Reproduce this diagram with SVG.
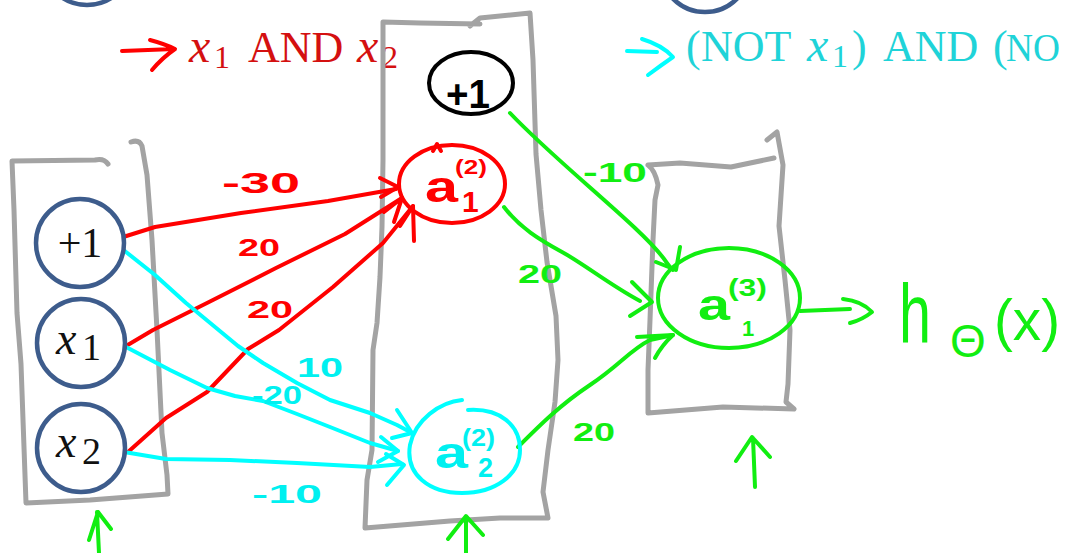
<svg xmlns="http://www.w3.org/2000/svg" width="1065" height="553" viewBox="0 0 1065 553">
<style>
.box{fill:none;stroke:#a3a3a3;stroke-width:5;stroke-linecap:round;stroke-linejoin:round}
.in{fill:#fff;stroke:#3d5c8c;stroke-width:4.5}
.lx{font-family:"Liberation Serif","DejaVu Serif",serif}
.hand{font-family:"Liberation Sans","DejaVu Sans",sans-serif;font-weight:bold}
.thin{font-family:"Liberation Sans","DejaVu Sans",sans-serif;font-weight:normal}
.ln{fill:none;stroke-width:4;stroke-linecap:round;stroke-linejoin:round}
.r{stroke:#ff0000}.c{stroke:#00ffff}.g{stroke:#11ee11}.k{stroke:#000}
.fr{fill:#ff0000}.fc{fill:#00f0f0}.fg{fill:#11ee11}.fk{fill:#000}
.tr{fill:#d41010}.tc{fill:#1fd3d8}
</style>

<!-- partial nodes at top -->
<g id="top-node-left"><circle cx="87" cy="-40" r="45" class="in"/></g>
<g id="top-node-right"><circle cx="705" cy="-33" r="45" class="in"/></g>

<!-- legend texts -->
<g id="legend-and">
<path class="ln r" d="M122,51 L174,49 M150,40 Q165,44 175,49 Q162,58 152,70"/>
<text class="lx tr" y="62" font-size="44"><tspan x="189" font-style="italic" font-size="48">x</tspan><tspan x="214" y="68" font-size="32">1</tspan><tspan x="248" y="62">AND</tspan><tspan x="357" font-style="italic" font-size="48">x</tspan><tspan x="382" y="68" font-size="32">2</tspan></text>
</g>
<g id="legend-nor">
<path class="ln c" d="M627,51 L657,52 M642,39 Q662,45 673,57 Q660,66 648,75"/>
<text class="lx tc" y="61" font-size="44"><tspan x="686">(</tspan><tspan x="701">NOT</tspan><tspan x="807" font-style="italic" font-size="48">x</tspan><tspan x="832" y="67" font-size="32">1</tspan><tspan x="852" y="61">)</tspan><tspan x="883">AND</tspan><tspan x="993">(</tspan></text>
<text class="lx tc" x="1006" y="61" font-size="40" textLength="54" lengthAdjust="spacingAndGlyphs">NO</text>
</g>

<!-- layer boxes -->
<g id="layer1-box"><path class="box" d="M108,164 Q104,158 95,160 L12,161 L14,210 L17,313 L21,364 L26,503 L90,500 L168,494 L167,475 L162,433 L157,330 L152,240 L147,175 L142,146 Q139,139 131,142"/></g>
<g id="layer2-box"><path class="box" d="M470,26 L480,18 L530,13 L533,60 L536,154 L541,210 L547,262 L556,316 L558,360 L555,402 L548,450 L543,492 L548,518 L500,518 L450,521 L365,528 L367,480 L372,450 L373,350 L377,323 L380,277 L382,227 L383,160 L383,60 L383,22 L420,23 L480,24"/></g>
<g id="layer3-box"><path class="box" d="M767,140 L777,132 L783,165 L779,226 L785,280 L790,330 L788,384 L786,402 L794,409 L723,407 L648,413 L648,370 L650,320 L653,240 L655,200 L658,185 Q655,170 648,165 L680,163 L731,167 L774,158"/></g>

<!-- connectors -->
<g id="connectors">
<path class="ln r" d="M120,238 L155,227 L241,213 L328,201 L396,189"/>
<path class="ln r" d="M126,346 L153,330 L207,303 L276,268 L345,234 L402,198"/>
<path class="ln r" d="M128,452 L166,418 L207,392 L248,349 L279,330 L333,287 L383,243 L413,206"/>
<path class="ln r" d="M380,178 L398,187 L381,197 M384,212 L402,198 L394,222 M400,226 L413,206 L414,241"/>
<path class="ln c" d="M121,248 L155,275 L186,303 L238,346 L263,363 L297,383 L330,400 L370,413 L397,425 L412,433"/>
<path class="ln c" d="M126,347 L170,370 L207,388 L235,396 L263,401 L297,414 L330,427 L370,443 L398,451"/>
<path class="ln c" d="M124,452 L166,459 L230,460 L297,463 L370,467 L402,464"/>
<path class="ln c" d="M397,410 L412,433 L392,438 M381,437 L398,451 L378,462 M386,454 L404,465 L387,485"/>
<path class="ln g" d="M510,113 C545,150 600,195 635,228 S664,262 673,270"/>
<path class="ln g" d="M680,247 L676,270 L656,262"/>
<path class="ln g" d="M504,207 C520,228 540,240 562,252 S610,285 640,301"/>
<path class="ln g" d="M632,282 L652,302 L630,316"/>
<path class="ln g" d="M518,447 C540,425 560,405 590,385 S630,350 650,340 L673,335"/>
<path class="ln g" d="M637,337 L673,335 M655,358 Q662,345 673,335"/>
<path class="ln g" d="M800,311 L850,309 M843,299 Q862,301 872,312 Q862,320 850,323"/>
</g>

<!-- input layer nodes -->
<g id="x0"><circle cx="80" cy="243" r="44" class="in"/><text class="lx" x="80" y="257" font-size="42" text-anchor="middle" fill="#111">+1</text></g>
<g id="x1"><circle cx="81" cy="343" r="44" class="in"/><text class="lx" y="354" font-size="46" fill="#111"><tspan x="56" font-style="italic">x</tspan><tspan x="82" y="360" font-size="38">1</tspan></text></g>
<g id="x2"><circle cx="81" cy="448" r="44" class="in"/><text class="lx" y="457" font-size="46" fill="#111"><tspan x="56" font-style="italic">x</tspan><tspan x="82" y="464" font-size="38">2</tspan></text></g>

<!-- hidden layer nodes -->
<g id="bias2"><ellipse cx="471" cy="83" rx="42" ry="31" fill="none" class="ln k"/><text class="hand fk" x="446" y="108" font-size="40" textLength="44" lengthAdjust="spacingAndGlyphs">+1</text></g>
<g id="a1-2"><ellipse cx="452" cy="184" rx="53" ry="39" class="ln r"/><path class="ln r" d="M433,151 L437,144 L441,151"/>
<text class="hand fr" x="425" y="202" font-size="44" textLength="33" lengthAdjust="spacingAndGlyphs">a</text>
<text class="hand fr" x="455" y="174" font-size="21" textLength="32" lengthAdjust="spacingAndGlyphs">(2)</text>
<text class="hand fr" x="462" y="212" font-size="30">1</text></g>
<g id="a2-2"><path class="ln c" d="M462,400 C440,402 415,420 410,445 C405,475 430,493 462,493 C495,493 520,475 520,450 C520,425 500,408 468,410"/>
<text class="hand fc" x="435" y="468" font-size="44" textLength="33" lengthAdjust="spacingAndGlyphs">a</text>
<text class="hand fc" x="462" y="446" font-size="24" textLength="33" lengthAdjust="spacingAndGlyphs">(2)</text>
<text class="hand fc" x="478" y="477" font-size="27">2</text></g>

<!-- output node -->
<g id="a1-3"><ellipse cx="729" cy="298" rx="71" ry="50" class="ln g"/>
<text class="hand fg" x="698" y="320" font-size="44" textLength="32" lengthAdjust="spacingAndGlyphs">a</text>
<text class="hand fg" x="728" y="296" font-size="24" textLength="39" lengthAdjust="spacingAndGlyphs">(3)</text>
<text class="hand fg" x="742" y="336" font-size="22">1</text></g>

<g id="hypothesis">
<text class="thin fg" x="899" y="343" font-size="84" textLength="32" lengthAdjust="spacingAndGlyphs">h</text>
<text class="thin fg" x="968" y="357" font-size="46" text-anchor="middle">Θ</text>
<text class="thin fg" x="994" y="340" font-size="58" textLength="66" lengthAdjust="spacingAndGlyphs">(x)</text>
</g>

<!-- weight labels -->
<g id="weights">
<text class="hand fr" x="222" y="193" font-size="30" textLength="78" lengthAdjust="spacingAndGlyphs">-30</text>
<text class="hand fr" x="238" y="256" font-size="24" textLength="42" lengthAdjust="spacingAndGlyphs">20</text>
<text class="hand fr" x="247" y="318" font-size="24" textLength="46" lengthAdjust="spacingAndGlyphs">20</text>
<text class="hand fc" x="297" y="377" font-size="27" textLength="46" lengthAdjust="spacingAndGlyphs">10</text>
<text class="hand fc" x="252" y="404" font-size="26" textLength="50" lengthAdjust="spacingAndGlyphs">-20</text>
<text class="hand fc" x="252" y="503" font-size="26" textLength="70" lengthAdjust="spacingAndGlyphs">-10</text>
<text class="hand fg" x="583" y="182" font-size="28" textLength="64" lengthAdjust="spacingAndGlyphs">-10</text>
<text class="hand fg" x="518" y="283" font-size="26" textLength="44" lengthAdjust="spacingAndGlyphs">20</text>
<text class="hand fg" x="573" y="441" font-size="26" textLength="42" lengthAdjust="spacingAndGlyphs">20</text>
</g>

<!-- layer pointers -->
<g id="pointers">
<path class="ln g" d="M97,512 L99,553 M89,540 L98,512 L111,529"/>
<path class="ln g" d="M466,518 L466,553 M448,539 L466,516 L483,535"/>
<path class="ln g" d="M753,438 L755,487 M736,461 L752,437 L770,457"/>
</g>
</svg>
